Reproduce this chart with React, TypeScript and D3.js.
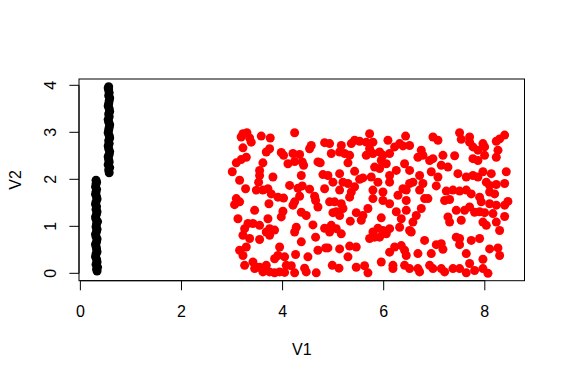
import React from "react";
import * as d3 from "d3";

// ---- data ----
const blackLowY = [0.05,0.09,0.13,0.19,0.24,0.3,0.35,0.41,0.46,0.52,0.57,0.62,0.67,0.73,0.78,0.83,0.89,0.94,0.99,1.05,1.1,1.15,1.2,1.26,1.31,1.36,1.42,1.47,1.52,1.58,1.63,1.68,1.73,1.79,1.84,1.9,1.94,1.98];
const blackLowX = [0.33,0.32,0.34,0.31,0.33,0.32,0.3,0.31,0.33,0.32,0.31,0.3,0.32,0.33,0.31,0.3,0.32,0.33,0.31,0.32,0.34,0.31,0.3,0.32,0.33,0.31,0.32,0.3,0.31,0.33,0.32,0.3,0.31,0.32,0.3,0.31,0.32,0.31];
const blackHighY = [2.14,2.2,2.25,2.31,2.37,2.42,2.48,2.53,2.59,2.65,2.71,2.76,2.82,2.88,2.93,2.99,3.05,3.1,3.16,3.22,3.27,3.33,3.39,3.44,3.5,3.56,3.61,3.67,3.73,3.78,3.84,3.9,3.94,3.97];
const blackHighX = [0.57,0.56,0.58,0.55,0.57,0.56,0.55,0.57,0.58,0.56,0.55,0.57,0.56,0.58,0.57,0.55,0.56,0.57,0.58,0.56,0.55,0.57,0.56,0.58,0.57,0.55,0.56,0.57,0.58,0.56,0.57,0.56,0.55,0.56];

const redX = [
  3.216,3.295,3.348,3.38,3.18,3.578,3.756,3.216,3.743,3.677,3.282,3.18,3.084,3.005,3.611,3.545,3.15,3.545,3.526,3.809,
  3.268,3.48,3.611,3.71,3.776,3.084,3.15,3.05,3.73,3.447,3.117,3.71,3.315,3.414,3.545,3.249,3.743,3.842,3.677,3.216,
  3.743,3.348,3.545,3.282,3.15,3.216,3.842,3.249,3.414,3.48,3.545,3.677,3.743,3.842,3.611,3.447,
  4.238,4.831,4.567,4.534,3.974,4.02,4.205,4.337,4.106,4.238,4.389,4.416,4.699,4.745,4.37,4.798,4.139,4.304,4.389,4.534,
  4.831,3.908,4.02,4.337,4.633,4.653,4.238,4.205,4.699,4.007,3.974,4.37,4.468,4.831,4.271,4.238,4.6,4.653,4.37,3.941,
  4.699,4.851,3.908,4.04,4.257,4.501,4.073,4.172,4.435,3.941,4.04,4.238,4.468,4.666,
  5.721,5.523,5.425,5.359,5.655,5.787,4.93,5.161,5.128,4.963,5.227,5.326,5.721,5.655,5.787,5.293,5.82,5.128,5.425,4.897,
  5.754,4.996,5.194,5.293,5.523,5.589,5.425,5.128,5.359,5.787,5.326,4.93,5.029,5.161,5.787,5.062,5.194,5.688,4.996,5.128,
  5.457,5.589,5.556,5.339,4.963,5.062,5.161,4.93,5.787,5.721,5.82,4.897,5.128,5.326,5.457,5.293,4.983,5.115,5.457,5.622,5.688,
  6.433,6.084,6.315,6.512,6.216,6.381,5.919,5.985,6.117,6.743,6.677,6.776,5.952,6.051,5.919,6.413,6.117,6.249,6.512,6.71,
  5.886,6.117,6.512,6.578,6.776,6.381,6.446,6.71,5.985,6.282,5.985,6.117,6.446,6.809,6.249,6.446,6.348,5.952,6.743,6.644,
  6.578,6.315,6.512,5.886,5.985,6.117,5.919,6.051,6.809,6.545,6.216,6.348,6.117,6.413,6.446,6.677,5.952,6.183,6.183,6.413,
  6.512,6.677,6.71,
  6.974,7.073,7.501,7.534,7.699,7.765,7.699,7.172,7.403,6.908,6.974,7.139,7.271,7.765,6.941,7.073,7.468,7.633,7.765,7.04,
  7.238,7.37,7.501,7.633,7.732,6.875,7.205,7.304,7.435,7.6,7.699,7.271,7.304,7.534,7.798,7.435,7.501,7.732,7.04,7.139,
  7.172,7.501,7.633,6.941,6.908,6.974,7.139,7.205,7.37,7.501,7.699,7.633,7.798,
  8.392,8.293,8.227,7.963,7.996,8.26,7.864,8.227,7.996,7.864,7.963,8.128,8.424,7.864,8.029,8.095,8.227,8.392,8.095,8.194,
  7.897,7.93,8.095,8.227,8.392,8.457,7.897,7.996,8.161,8.392,7.963,8.029,8.227,8.293,7.897,8.095,8.26,8.293,7.963,7.963,8.062
];
const redY = [
  2.97,2.99,2.88,2.79,2.9,2.92,2.88,2.67,2.65,2.58,2.47,2.42,2.35,2.16,2.35,2.19,1.98,2.08,1.94,2.05,
  1.8,1.77,1.77,1.8,1.69,1.59,1.52,1.46,1.48,1.34,1.16,1.16,1.06,1.06,1.02,0.95,0.95,0.92,0.88,0.81,
  0.81,0.74,0.72,0.56,0.49,0.38,0.31,0.17,0.24,0.13,0.13,0.17,0.03,0.01,0.03,0.1,
  2.99,2.78,2.72,2.65,2.57,2.51,2.55,2.53,2.33,2.38,2.37,2.3,2.37,2.35,2.08,2.1,1.87,1.81,1.86,1.79,
  1.8,1.62,1.6,1.64,1.64,1.55,1.52,1.45,1.41,1.32,1.2,1.3,1.23,0.96,0.98,0.88,1.03,0.77,0.67,0.56,
  0.49,0.54,0.38,0.35,0.4,0.35,0.17,0.16,0.11,0.03,0.02,0.01,0.03,0.01,
  2.97,2.81,2.83,2.76,2.79,2.79,2.76,2.72,2.58,2.55,2.55,2.51,2.65,2.51,2.55,2.35,2.26,2.12,2.17,2.08,
  2.05,1.94,1.94,1.91,2.0,2.03,1.84,1.77,1.73,1.77,1.62,1.52,1.52,1.48,1.59,1.31,1.38,1.38,1.29,1.23,
  1.29,1.23,1.13,1.11,1.02,0.95,0.84,0.88,0.88,0.74,0.77,0.54,0.52,0.58,0.56,0.35,0.17,0.11,0.13,0.16,0.01,
  2.92,2.83,2.76,2.72,2.69,2.71,2.58,2.51,2.55,2.62,2.47,2.51,2.4,2.33,2.23,2.33,2.08,2.19,2.19,2.08,
  1.94,1.94,1.91,1.94,1.91,1.8,1.77,1.77,1.73,1.66,1.55,1.48,1.55,1.59,1.31,1.34,1.16,1.18,1.38,1.23,
  1.09,0.98,0.91,0.96,0.91,0.95,0.77,0.84,0.7,0.88,0.56,0.59,0.45,0.49,0.38,0.42,0.24,0.17,0.1,0.17,
  0.1,0.1,0.03,
  2.9,2.83,2.99,2.85,2.9,2.69,2.79,2.51,2.5,2.4,2.44,2.3,2.26,2.44,2.16,2.05,2.12,2.05,2.08,1.86,
  1.75,1.77,1.75,1.77,1.69,1.59,1.55,1.57,1.34,1.34,1.41,1.2,1.09,1.13,1.3,0.77,0.74,0.7,0.61,0.63,
  0.51,0.61,0.42,0.42,0.17,0.1,0.1,0.03,0.1,0.1,0.21,0.01,0.06,
  2.94,2.86,2.81,2.76,2.69,2.62,2.62,2.47,2.51,2.4,2.16,2.12,2.16,2.05,1.94,1.87,1.89,1.91,1.73,1.69,
  1.62,1.52,1.48,1.45,1.45,1.53,1.31,1.29,1.27,1.21,1.09,1.02,1.09,0.91,0.74,0.52,0.54,0.38,0.3,0.1,0.0
];

const xTicks = [0, 2, 4, 6, 8];
const yTicks = [0, 1, 2, 3, 4];
const xLimits = [-0.027, 8.785];
const yLimits = [-0.157, 4.134];
const xLabel = "V1";
const yLabel = "V2";

export default function App() {
  const W = 565, H = 379;
  const left = 79, right = 524.5, top = 79, bottom = 280.7;
  const x = d3.scaleLinear().domain(xLimits).range([left, right]);
  const y = d3.scaleLinear().domain(yLimits).range([bottom, top]);
  const font = "'Liberation Sans', Arial, Helvetica, sans-serif";
  const black = blackLowX.map((v, i) => [v, blackLowY[i]]).concat(blackHighX.map((v, i) => [v, blackHighY[i]]));
  const red = redX.map((v, i) => [v, redY[i]]);
  const r = 4.5;
  return (
    <svg width={W} height={H} style={{ position: "absolute", left: 0, top: 0, background: "#fff" }} fontFamily={font}>
      <rect x={0} y={0} width={W} height={H} fill="#fff" />
      {black.map((p, i) => (
        <circle key={"b" + i} cx={x(p[0])} cy={y(p[1])} r={r} fill="#000" />
      ))}
      {red.map((p, i) => (
        <circle key={"r" + i} cx={x(p[0])} cy={y(p[1])} r={r} fill="#ff0000" />
      ))}
      <rect x={left} y={top} width={right - left} height={bottom - top} fill="none" stroke="#000" strokeWidth={1} />
      {/* x axis */}
      <line x1={x(xTicks[0])} x2={x(xTicks[xTicks.length - 1])} y1={bottom} y2={bottom} stroke="#000" />
      {xTicks.map((t) => (
        <g key={"xt" + t}>
          <line x1={x(t)} x2={x(t)} y1={bottom} y2={bottom + 9.6} stroke="#000" />
          <text x={x(t)} y={bottom + 36} textAnchor="middle" fontSize={16}>{t}</text>
        </g>
      ))}
      {/* y axis */}
      <line x1={left} x2={left} y1={y(yTicks[0])} y2={y(yTicks[yTicks.length - 1])} stroke="#000" />
      {yTicks.map((t) => (
        <g key={"yt" + t}>
          <line x1={left} x2={left - 9.6} y1={y(t)} y2={y(t)} stroke="#000" />
          <text transform={`translate(${left - 23},${y(t)}) rotate(-90)`} textAnchor="middle" fontSize={16}>{t}</text>
        </g>
      ))}
      <text x={(left + right) / 2} y={bottom + 74} textAnchor="middle" fontSize={16}>{xLabel}</text>
      <text transform={`translate(${left - 58},${(top + bottom) / 2}) rotate(-90)`} textAnchor="middle" fontSize={16}>{yLabel}</text>
    </svg>
  );
}
